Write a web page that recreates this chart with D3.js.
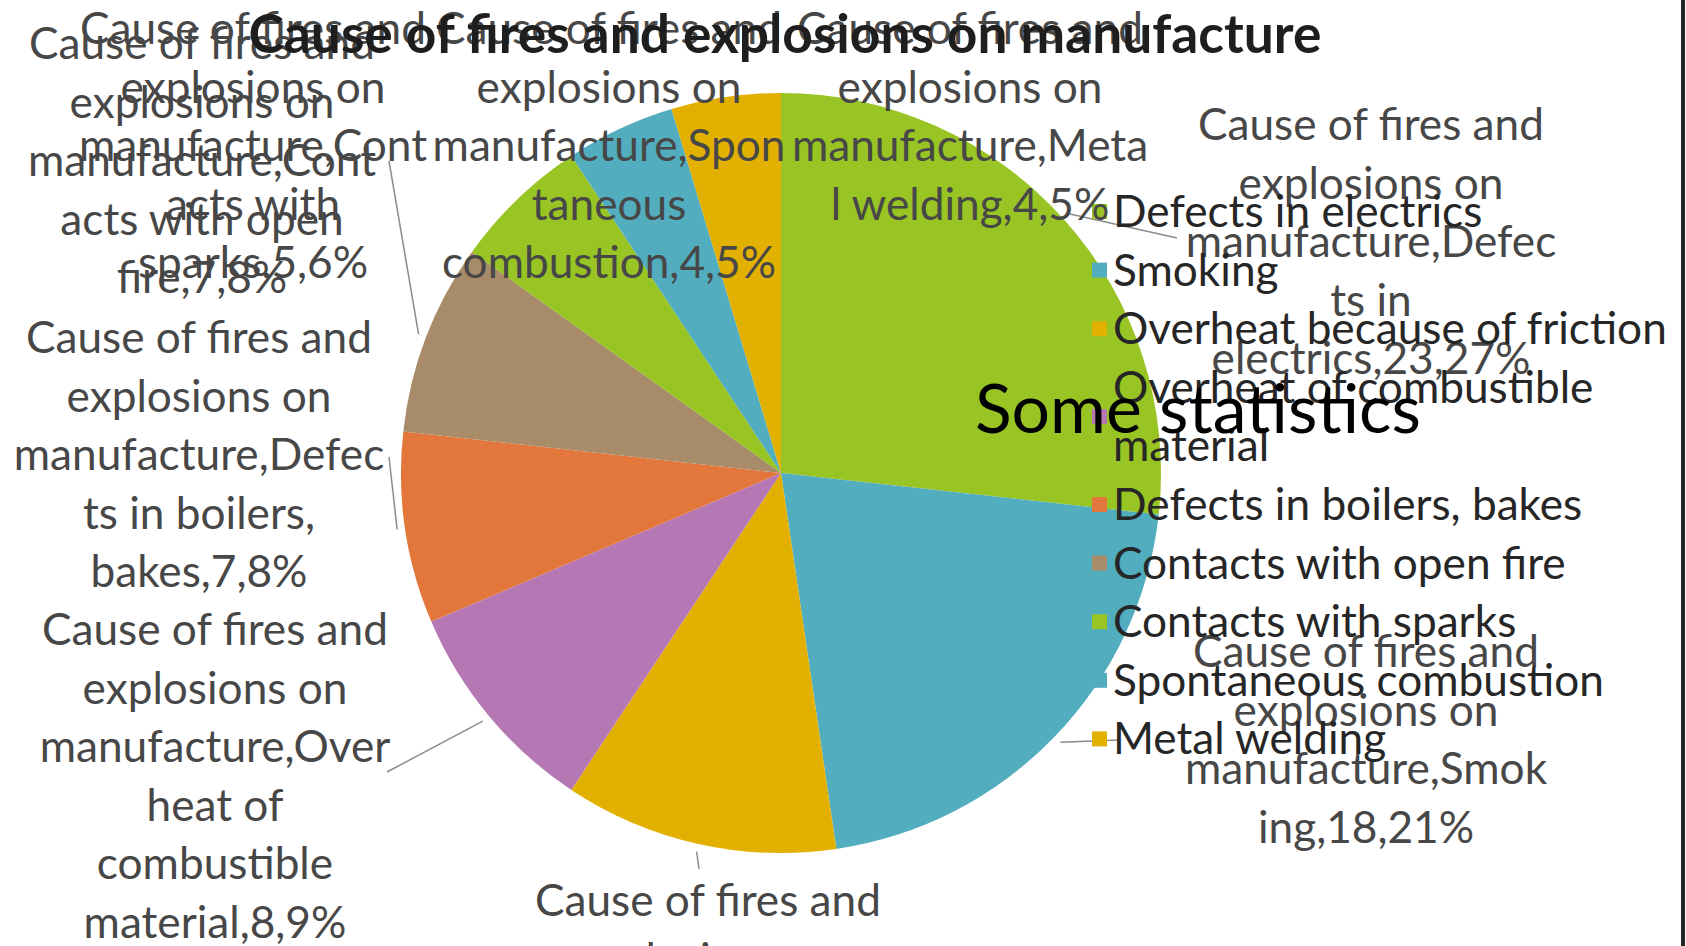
<!DOCTYPE html>
<html>
<head>
<meta charset="utf-8">
<script src="https://cdnjs.cloudflare.com/ajax/libs/d3/7.8.5/d3.min.js"></script>
<style>
  html, body { margin: 0; padding: 0; background: #ffffff; overflow: hidden; }
  svg { display: block; }
  text { font-family: Lato, "Open Sans", sans-serif; }
</style>
</head>
<body>
<svg id="canvas" width="1686" height="946"></svg>
<script>
  // data
  const title = "Cause of fires and explosions on manufacture";
  const overlayText = "Some statistics";
  const categories = [
    "Defects in electrics",
    "Smoking",
    "Overheat because of friction",
    "Overheat of combustible material",
    "Defects in boilers, bakes",
    "Contacts with open fire",
    "Contacts with sparks",
    "Spontaneous combustion",
    "Metal welding"
  ];
  const values = [23, 18, 10, 8, 7, 7, 5, 4, 4];
  const palette = ["#98c424", "#52adbe", "#e2b000", "#b578b5", "#e3773b", "#a88b68"];

  // data labels, wrapped the way the original chart wrapped them
  const labelLines = [
    ["Cause of fires and", "explosions on", "manufacture,Defec", "ts in", "electrics,23,27%"],
    ["Cause of fires and", "explosions on", "manufacture,Smok", "ing,18,21%"],
    ["Cause of fires and", "explosions on", "manufacture,Over", "heat because of", "friction,10,12%"],
    ["Cause of fires and", "explosions on", "manufacture,Over", "heat of", "combustible", "material,8,9%"],
    ["Cause of fires and", "explosions on", "manufacture,Defec", "ts in boilers,", "bakes,7,8%"],
    ["Cause of fires and", "explosions on", "manufacture,Cont", "acts with open", "fire,7,8%"],
    ["Cause of fires and", "explosions on", "manufacture,Cont", "acts with", "sparks,5,6%"],
    ["Cause of fires and", "explosions on", "manufacture,Spon", "taneous", "combustion,4,5%"],
    ["Cause of fires and", "explosions on", "manufacture,Meta", "l welding,4,5%"]
  ];

  // layout
  const width = 1686, height = 946;
  const center = { x: 781, y: 473 };
  const radius = 380;
  const lineH = 58.6;
  const labelPos = [[1371, 124], [1366, 651], [708, 900], [215, 629], [199, 337], [202, 43], [253, 28], [609, 28], [970, 28]];
  const leaderEnds = [[1177, 238], [1118, 740], [699, 869], [387, 772], [389, 457], [389, 161], null, null, null];

  const svg = d3.select("#canvas");

  function fitSize(str, weight, target) {
    const t = svg.append("text").style("font-size", "100px").style("font-weight", weight).text(str);
    const w = t.node().getComputedTextLength();
    t.remove();
    return 100 * target / w;
  }

  const labelSize = fitSize("Cause of fires and", 400, 346);
  const titleSize = fitSize(title, 700, 1073);
  const overlaySize = fitSize(overlayText, 400, 446);

  const color = i => palette[i % palette.length];

  const pie = d3.pie().sort(null).value(d => d);
  const arcs = pie(values);
  const arc = d3.arc().innerRadius(0).outerRadius(radius);
  const outer = d3.arc().innerRadius(radius + 8).outerRadius(radius + 8);

  const g = svg.append("g").attr("transform", `translate(${center.x},${center.y})`);
  g.selectAll("path.slice")
    .data(arcs)
    .join("path")
      .attr("class", "slice")
      .attr("d", arc)
      .attr("fill", (d, i) => color(i));

  // leader lines
  arcs.forEach((d, i) => {
    if (!leaderEnds[i]) return;
    const a = (d.startAngle + d.endAngle) / 2;
    const sx = center.x + (radius + 8) * Math.sin(a);
    const sy = center.y - (radius + 8) * Math.cos(a);
    svg.append("path")
      .attr("d", `M ${sx},${sy} L ${leaderEnds[i][0]},${leaderEnds[i][1]}`)
      .attr("stroke", "#8c8c8c")
      .attr("stroke-width", 1.5)
      .attr("fill", "none");
  });

  // data labels
  labelLines.forEach((lines, i) => {
    const t = svg.append("text")
      .attr("text-anchor", "middle")
      .style("font-size", labelSize + "px")
      .attr("fill", "#474747");
    lines.forEach((line, j) => {
      t.append("tspan")
        .attr("x", labelPos[i][0])
        .attr("y", labelPos[i][1] + j * lineH)
        .attr("dy", "0.36em")
        .text(line);
    });
  });

  // legend
  const legendX = 1113, legendY = 211, legendMax = 575;
  let row = 0;
  categories.forEach((name, i) => {
    const words = name.split(" ");
    const t = svg.append("text")
      .style("font-size", labelSize + "px")
      .attr("fill", "#262626");
    let lines = [], cur = [];
    words.forEach(w => {
      const test = cur.concat(w).join(" ");
      t.text(test);
      if (cur.length && t.node().getComputedTextLength() > legendMax) {
        lines.push(cur.join(" "));
        cur = [w];
      } else {
        cur.push(w);
      }
    });
    lines.push(cur.join(" "));
    t.text(null);
    lines.forEach((line, j) => {
      t.append("tspan")
        .attr("x", legendX)
        .attr("y", legendY + (row + j) * lineH)
        .attr("dy", "0.36em")
        .text(line);
    });
    const mid = legendY + (row + (lines.length - 1) / 2) * lineH;
    svg.insert("rect", "text")
      .attr("x", legendX - 21)
      .attr("y", mid - 7)
      .attr("width", 15)
      .attr("height", 15)
      .attr("fill", color(i));
    row += lines.length;
  });

  // title
  svg.append("text")
    .attr("x", 785)
    .attr("y", 34)
    .attr("dy", "0.36em")
    .attr("text-anchor", "middle")
    .style("font-size", titleSize + "px")
    .style("font-weight", 700)
    .attr("fill", "#1e1e1e")
    .text(title);

  svg.append("text")
    .attr("x", 975)
    .attr("y", 433)
    .style("font-size", overlaySize + "px")
    .attr("fill", "#000000")
    .text(overlayText);

  // right edge of the slide
  svg.append("line")
    .attr("x1", 1683).attr("x2", 1683)
    .attr("y1", 0).attr("y2", height)
    .attr("stroke", "#262626")
    .attr("stroke-width", 4);
</script>
</body>
</html>
